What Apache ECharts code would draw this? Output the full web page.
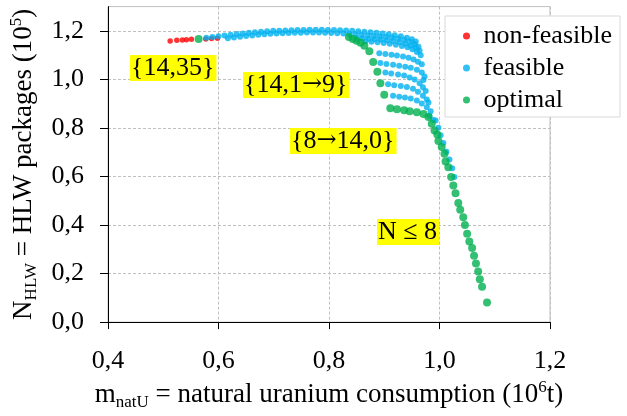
<!DOCTYPE html>
<html>
<head>
<meta charset="utf-8">
<script src="https://cdn.jsdelivr.net/npm/echarts@6/dist/echarts.min.js"></script>
<style>
  html, body { margin: 0; padding: 0; background: #ffffff; }
  #chart { width: 627px; height: 416px; }
</style>
</head>
<body>
<div id="chart"></div>
<script>
// Scenario results: [natural uranium consumption (10^6 t), HLW packages (10^5)]
const nonFeasible = [
  [0.5125, 1.158], [0.5245, 1.161], [0.5345, 1.162], [0.542, 1.163], [0.551, 1.165],
  [0.577, 1.167], [0.5875, 1.169], [0.598, 1.170]
];

const feasible = [
  // upper band
  [0.578, 1.172], [0.589, 1.175], [0.600, 1.178], [0.611, 1.181], [0.622, 1.184], [0.633, 1.187],
  [0.644, 1.189], [0.655, 1.192], [0.666, 1.194], [0.677, 1.196], [0.688, 1.198], [0.699, 1.200],
  [0.710, 1.201], [0.721, 1.202], [0.732, 1.203], [0.743, 1.204], [0.754, 1.204], [0.765, 1.205],
  [0.776, 1.205], [0.787, 1.205], [0.798, 1.204], [0.809, 1.204], [0.820, 1.203], [0.831, 1.202],
  [0.842, 1.200], [0.853, 1.198], [0.864, 1.196], [0.875, 1.194], [0.886, 1.192], [0.897, 1.189],
  [0.908, 1.186], [0.919, 1.182], [0.930, 1.178], [0.941, 1.172], [0.950, 1.165], [0.957, 1.156],
  // lower band
  [0.617, 1.170], [0.628, 1.173], [0.639, 1.176], [0.650, 1.179], [0.661, 1.181], [0.672, 1.184],
  [0.683, 1.186], [0.694, 1.188], [0.705, 1.189], [0.716, 1.190], [0.727, 1.191], [0.738, 1.192],
  [0.749, 1.192], [0.760, 1.193], [0.771, 1.193], [0.782, 1.193], [0.793, 1.192], [0.804, 1.191],
  [0.815, 1.190], [0.826, 1.189],
  // dense cluster
  [0.837, 1.186], [0.848, 1.185], [0.859, 1.183], [0.870, 1.181], [0.881, 1.179], [0.892, 1.177],
  [0.903, 1.175], [0.914, 1.172], [0.925, 1.168], [0.936, 1.162], [0.946, 1.155], [0.955, 1.146],
  [0.962, 1.135],
  [0.850, 1.172], [0.861, 1.170], [0.872, 1.168], [0.883, 1.166], [0.894, 1.164], [0.905, 1.161],
  [0.916, 1.158], [0.927, 1.154], [0.938, 1.148], [0.948, 1.140], [0.957, 1.130], [0.964, 1.118],
  [0.866, 1.157], [0.877, 1.155], [0.888, 1.153], [0.899, 1.150], [0.910, 1.147], [0.921, 1.143],
  [0.932, 1.138], [0.942, 1.132], [0.951, 1.124], [0.959, 1.113], [0.966, 1.100],
  [0.891, 1.108], [0.902, 1.105], [0.913, 1.102], [0.923, 1.098], [0.934, 1.094], [0.944, 1.089],
  [0.953, 1.082], [0.961, 1.073], [0.968, 1.062],
  // fan rows
  [0.893, 1.068], [0.904, 1.064], [0.916, 1.060], [0.927, 1.056], [0.938, 1.052], [0.948, 1.048],
  [0.959, 1.040], [0.968, 1.028], [0.973, 1.012],
  [0.902, 1.028], [0.9125, 1.024], [0.925, 1.020], [0.936, 1.016], [0.946, 1.008], [0.955, 1.000],
  [0.964, 0.984], [0.970, 0.968],
  [0.907, 0.980], [0.918, 0.976], [0.930, 0.973], [0.941, 0.969], [0.952, 0.961], [0.961, 0.949],
  [0.970, 0.933], [0.977, 0.917],
  [0.916, 0.933], [0.927, 0.929], [0.9375, 0.925], [0.948, 0.921], [0.959, 0.913], [0.968, 0.901],
  [0.977, 0.885], [0.984, 0.869],
  [0.982, 0.849], [0.989, 0.833],
  // outer edge
  [0.971, 0.998], [0.975, 0.952], [0.980, 0.905],
  [0.993, 0.831], [0.998, 0.801], [1.002, 0.770], [1.007, 0.738], [1.0125, 0.702], [1.018, 0.670],
  [1.023, 0.634], [1.027, 0.598]
];

const optimal = [
  [0.564, 1.167],
  [0.836, 1.175], [0.843, 1.167], [0.850, 1.159], [0.857, 1.151], [0.864, 1.139], [0.873, 1.116],
  [0.880, 1.072], [0.8875, 1.032], [0.893, 0.984], [0.900, 0.937],
  [0.911, 0.881], [0.923, 0.877], [0.936, 0.873], [0.946, 0.869], [0.959, 0.865], [0.971, 0.857],
  [0.980, 0.845], [0.986, 0.817], [0.991, 0.789], [0.996, 0.773], [0.998, 0.746], [1.004, 0.722],
  [1.009, 0.694], [1.011, 0.662], [1.016, 0.638], [1.021, 0.598], [1.025, 0.563], [1.029, 0.531],
  [1.034, 0.491], [1.0375, 0.463], [1.043, 0.432], [1.046, 0.400], [1.050, 0.364], [1.054, 0.332],
  [1.059, 0.305], [1.0625, 0.273], [1.066, 0.241], [1.070, 0.208], [1.073, 0.177], [1.077, 0.146],
  [1.086, 0.081]
];

const seriesNames = ['non-feasible', 'feasible', 'optimal'];
const xTicks = [0.4, 0.6, 0.8, 1.0, 1.2];
const xTickLabels = ['0,4', '0,6', '0,8', '1,0', '1,2'];
const yTicks = [0.0, 0.2, 0.4, 0.6, 0.8, 1.0, 1.2];
const yTickLabels = ['0,0', '0,2', '0,4', '0,6', '0,8', '1,0', '1,2'];
// annotation texts; {a|...} marks the arrow glyph, other braces are literal
const noteTexts = ['{14,35}', '{14,1{a|\u2192}9}', '{8{a|\u2192}14,0}', 'N \u2264 8'];

const FONT = '"Liberation Serif", "Times New Roman", "DejaVu Serif", serif';
const GRID_GRAY = '#bfbfbf';

function tickLabel(ticks, labels) {
  return function (v) {
    for (let i = 0; i < ticks.length; i++) {
      if (Math.abs(ticks[i] - v) < 1e-6) return labels[i];
    }
    return '';
  };
}

const titleRich = {
  b:   { fontFamily: FONT, fontSize: 27, color: '#000', lineHeight: 32, verticalAlign: 'middle' },
  sub: { fontFamily: FONT, fontSize: 17, color: '#000', lineHeight: 17, verticalAlign: 'bottom' },
  sup: { fontFamily: FONT, fontSize: 17, color: '#000', lineHeight: 17, verticalAlign: 'top' }
};

const notePos = [
  { left: 130, top: 55 },
  { left: 243, top: 72 },
  { left: 290, top: 128 },
  { left: 377, top: 219 }
];

const chart = echarts.init(document.getElementById('chart'), null, { renderer: 'canvas' });

chart.setOption({
  animation: false,
  backgroundColor: '#ffffff',
  grid: {
    left: 102, right: 77, top: 6.6, bottom: 82.4,
    show: true, borderColor: GRID_GRAY, borderWidth: 1, backgroundColor: 'transparent'
  },
  xAxis: {
    type: 'value', min: 0.4, max: 1.2, interval: 0.2,
    axisLine: { show: true, onZero: false, lineStyle: { color: '#000', width: 1 } },
    axisTick: { show: true, length: 7, lineStyle: { color: '#000' } },
    axisLabel: {
      margin: 26, fontFamily: FONT, fontSize: 26, color: '#000',
      formatter: tickLabel(xTicks, xTickLabels)
    },
    splitLine: { show: true, lineStyle: { color: GRID_GRAY, type: [3, 2], width: 1 } },
    name: '{b|m}{sub|natU}{b| = natural uranium consumption (10}{sup|6}{b|t)}',
    nameLocation: 'middle', nameGap: 54,
    nameTextStyle: { rich: titleRich }
  },
  yAxis: {
    type: 'value', min: 0, max: 1.3, interval: 0.2,
    axisLine: { show: true, onZero: false, lineStyle: { color: '#000', width: 1 } },
    axisTick: { show: true, length: 8, lineStyle: { color: '#000' }, customValues: yTicks },
    axisLabel: {
      margin: 24, fontFamily: FONT, fontSize: 26, color: '#000',
      customValues: yTicks,
      formatter: tickLabel(yTicks, yTickLabels)
    },
    splitLine: { show: true, lineStyle: { color: GRID_GRAY, type: [3, 2], width: 1 } },
    name: '{b|N}{sub|HLW}{b| = HLW packages (10}{sup|5}{b|)}',
    nameLocation: 'middle', nameGap: 68, nameRotate: 90,
    nameTextStyle: { rich: titleRich }
  },
  legend: {
    data: seriesNames,
    orient: 'vertical', left: 445, top: 16,
    padding: [7, 8, 4, 18], itemGap: 6,
    itemWidth: 24, itemHeight: 7, icon: 'circle',
    backgroundColor: '#ffffff', borderColor: '#d9d9d9', borderWidth: 1,
    textStyle: { fontFamily: FONT, fontSize: 26, color: '#000', lineHeight: 24 }
  },
  series: [
    {
      name: seriesNames[0], type: 'scatter', data: nonFeasible,
      symbol: 'circle', symbolSize: 5.5,
      itemStyle: { color: '#ff0000' }
    },
    {
      name: seriesNames[1], type: 'scatter', data: feasible,
      symbol: 'circle', symbolSize: 6,
      itemStyle: { color: '#00b0f0' }
    },
    {
      name: seriesNames[2], type: 'scatter', data: optimal,
      symbol: 'circle', symbolSize: 8,
      itemStyle: { color: '#00b050' }
    }
  ],
  graphic: noteTexts.map(function (t, i) {
    return {
      type: 'text', left: notePos[i].left, top: notePos[i].top, z: 10,
      style: {
        text: t,
        font: '26px ' + FONT, fill: '#000',
        rich: { a: { font: '24px "DejaVu Serif", serif', fill: '#000' } },
        backgroundColor: '#ffff00', padding: [0, 2, 0, 1]
      }
    };
  })
});
</script>
</body>
</html>
